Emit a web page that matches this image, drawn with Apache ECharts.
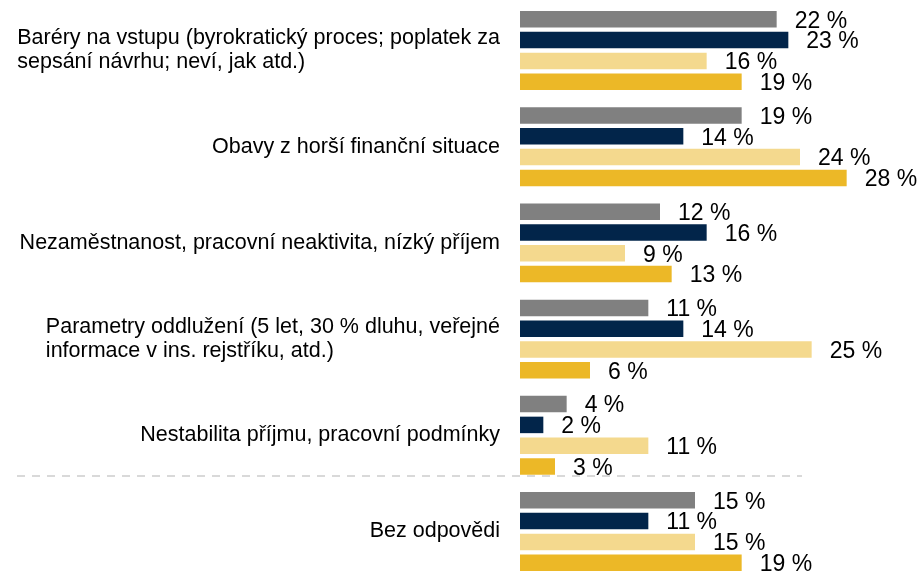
<!DOCTYPE html>
<html>
<head>
<meta charset="utf-8">
<script src="https://cdn.jsdelivr.net/npm/echarts@6/dist/echarts.min.js"></script>
<style>
    html, body { margin: 0; padding: 0; background: #fff; overflow: hidden; }
    /* taller than the window: the last group is cut off at the bottom like in the original */
    #chart { width: 924px; height: 600px; }
</style>
</head>
<body>
<div id="chart"></div>
<script>
// categories top to bottom
const categories = [
    'Baréry na vstupu (byrokratický proces; poplatek za\nsepsání návrhu; neví, jak atd.)',
    'Obavy z horší finanční situace',
    'Nezaměstnanost, pracovní neaktivita, nízký příjem',
    'Parametry oddlužení (5 let, 30 % dluhu, veřejné\ninformace v ins. rejstříku, atd.)',
    'Nestabilita příjmu, pracovní podmínky',
    'Bez odpovědi'
];

// four series per category, values in %
const seriesGray = [22, 19, 12, 11, 4, 15];
const seriesNavy = [23, 14, 16, 14, 2, 11];
const seriesLight = [16, 24, 9, 25, 11, 15];
const seriesGold = [19, 28, 13, 6, 3, 19];

// the dashed separator sits before the last category
const separatorBefore = 5;

const colors = ['#808080', '#02254a', '#f4d98e', '#ecb827'];
const font = 'Liberation Sans, Arial, sans-serif';

const chart = echarts.init(document.getElementById('chart'));

function bar(data, color) {
    return {
        type: 'bar',
        data: data,
        barWidth: 16.5,
        barGap: '26%',
        itemStyle: { color: color },
        label: {
            show: true,
            position: 'right',
            distance: 18,
            offset: [0, 2],
            formatter: '{c} %',
            color: '#000',
            fontSize: 23,
            fontFamily: font
        }
    };
}

// boundaries between categories (0..n), used by the separator axis
const boundaries = categories.map((c, i) => i).concat(categories.length);

chart.setOption({
    animation: false,
    grid: [
        { left: 520, top: 2.4, width: 350, height: 577.2 },
        // wider grid only used for the dashed separator line
        { left: 17, top: 0, width: 785, height: 571.2 }
    ],
    xAxis: [
        { type: 'value', min: 0, max: 30, show: false },
        { type: 'value', gridIndex: 1, show: false }
    ],
    yAxis: [
        {
            type: 'category',
            data: categories,
            inverse: true,
            axisLine: { show: false },
            axisTick: { show: false },
            splitLine: { show: false },
            axisLabel: {
                margin: 20,
                formatter: function (value) {
                    return value.split('\n').map(s => '{l|' + s + '}').join('\n');
                },
                rich: {
                    l: {
                        align: 'left',
                        fontSize: 21.5,
                        lineHeight: 24,
                        color: '#000',
                        fontFamily: font
                    }
                }
            }
        },
        {
            type: 'category',
            gridIndex: 1,
            data: boundaries,
            boundaryGap: false,
            inverse: true,
            axisLine: { show: false },
            axisTick: { show: false },
            axisLabel: { show: false },
            splitLine: {
                show: true,
                interval: function (index) { return index === separatorBefore; },
                lineStyle: { color: '#d9d9d9', width: 2, type: [8, 7] }
            }
        }
    ],
    series: [
        bar(seriesGray, colors[0]),
        bar(seriesNavy, colors[1]),
        bar(seriesLight, colors[2]),
        bar(seriesGold, colors[3])
    ]
});
</script>
</body>
</html>
